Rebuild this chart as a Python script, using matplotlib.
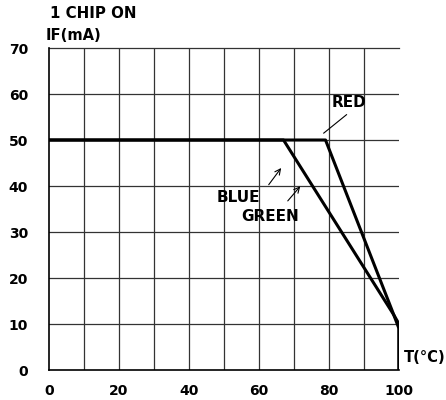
import numpy as np
import matplotlib.pyplot as plt

# derating curves
blue_green_t = [0, 67, 98.5, 100, 100]
blue_green_if = [50, 50, 12, 10, 0]
red_t = [0, 79, 98, 100, 100]
red_if = [50, 50, 13, 9, 0]

x_ticks = [0, 20, 40, 60, 80, 100]
y_ticks = [0, 10, 20, 30, 40, 50, 60, 70]

plt.rcParams['font.family'] = ['DejaVu Sans']
plt.rcParams['font.weight'] = 'bold'

fig = plt.figure(figsize=(4.46, 4.0), dpi=100)
ax = fig.add_axes([0.11, 0.075, 0.7846, 0.805])

for v in range(10, 100, 10):
    ax.axvline(v, color='#333333', lw=0.9, zorder=1)
for h in range(10, 70, 10):
    ax.axhline(h, color='#333333', lw=0.9, zorder=1)

ax.plot(blue_green_t, blue_green_if, color='black', lw=2.2, zorder=3)
ax.plot(red_t, red_if, color='black', lw=2.2, zorder=3)

ax.set_xlim(0, 100)
ax.set_ylim(0, 70)
ax.set_xticks(x_ticks)
ax.set_yticks(y_ticks)
ax.tick_params(length=0, labelsize=10)
ax.tick_params(axis='y', pad=15)
ax.tick_params(axis='x', pad=10)
for s in ['top', 'right']:
    ax.spines[s].set_visible(False)
ax.spines['left'].set_linewidth(1.2)
ax.spines['bottom'].set_linewidth(1.2)
ax.plot([0, 100], [70, 70], color='#333333', lw=0.9, clip_on=False)

fig.text(0.112, 0.965, '1 CHIP ON', fontsize=10.8, fontweight='bold', va='center')
fig.text(0.103, 0.912, 'IF(mA)', fontsize=10.6, fontweight='bold', va='center')
fig.text(0.906, 0.105, 'T(\u00b0C)', fontsize=10.6, fontweight='bold', va='center')

ax.text(80.8, 58.2, 'RED', fontsize=11, fontweight='bold', va='center')
ax.plot([78.5, 85], [51.5, 55.5], color='black', lw=0.8)
ax.text(48, 37.5, 'BLUE', fontsize=11, fontweight='bold', va='center')
ax.annotate('', xy=(66.8, 44.4), xytext=(62.3, 39.8),
            arrowprops=dict(arrowstyle='->', lw=0.8, color='black'))
ax.text(54.8, 33.4, 'GREEN', fontsize=11, fontweight='bold', va='center')
ax.annotate('', xy=(72.3, 40.4), xytext=(67.7, 36.3),
            arrowprops=dict(arrowstyle='->', lw=0.8, color='black'))

fig.savefig('out.png', dpi=100)
